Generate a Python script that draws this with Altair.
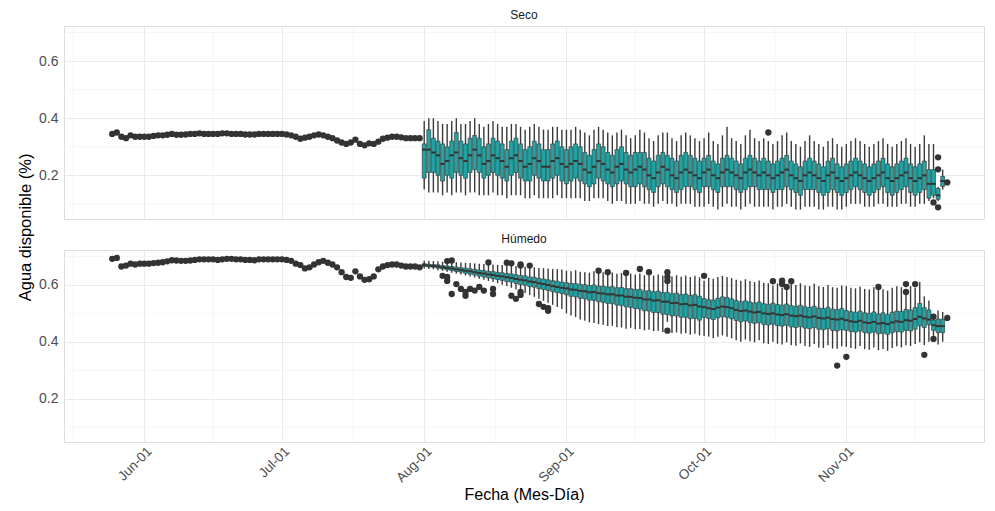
import altair as alt
import pandas as pd

FONT = "Liberation Sans"
TEAL = "#21a3a3"
DARK = "#333333"
YEAR = 2023

pre_start = "2023-05-25"
post_start = "2023-08-01"

# ---------------- Seco ----------------
seco_pre_may = [0.345, 0.35, 0.335, 0.33, 0.34, 0.335, 0.335]
seco_pre_jun = [0.335, 0.335, 0.338, 0.34, 0.34, 0.342, 0.345, 0.342, 0.342, 0.343,
                0.345, 0.345, 0.347, 0.345, 0.345, 0.345, 0.345, 0.347, 0.347, 0.345,
                0.345, 0.345, 0.343, 0.343, 0.343, 0.345, 0.345, 0.345, 0.345, 0.345]
seco_pre_jul = [0.345, 0.343, 0.34, 0.335, 0.328, 0.332, 0.335, 0.34, 0.343, 0.34,
                0.335, 0.33, 0.322, 0.315, 0.31, 0.315, 0.325, 0.31, 0.305, 0.312,
                0.31, 0.318, 0.328, 0.332, 0.335, 0.335, 0.333, 0.33, 0.33, 0.33, 0.33]

seco_med_aug = [0.29, 0.29, 0.28, 0.27, 0.24, 0.25, 0.27, 0.28, 0.26, 0.25,
                0.27, 0.29, 0.27, 0.24, 0.25, 0.27, 0.26, 0.25, 0.23, 0.26,
                0.27, 0.25, 0.23, 0.24, 0.26, 0.25, 0.23, 0.23, 0.25, 0.26, 0.24]
seco_q3_aug = [0.31, 0.36, 0.33, 0.32, 0.31, 0.30, 0.32, 0.35, 0.32, 0.31,
               0.33, 0.34, 0.33, 0.30, 0.31, 0.33, 0.32, 0.31, 0.29, 0.32,
               0.33, 0.31, 0.29, 0.30, 0.32, 0.31, 0.29, 0.29, 0.31, 0.32, 0.30]
seco_q1_aug = [0.19, 0.21, 0.21, 0.20, 0.18, 0.20, 0.19, 0.21, 0.20, 0.19,
               0.21, 0.22, 0.21, 0.19, 0.20, 0.21, 0.20, 0.19, 0.18, 0.20,
               0.21, 0.19, 0.18, 0.18, 0.20, 0.19, 0.18, 0.18, 0.19, 0.20, 0.18]
seco_hi_aug = [0.39, 0.40, 0.40, 0.39, 0.38, 0.38, 0.39, 0.40, 0.38, 0.38,
               0.39, 0.40, 0.38, 0.37, 0.38, 0.39, 0.38, 0.37, 0.37, 0.38,
               0.38, 0.37, 0.36, 0.37, 0.38, 0.37, 0.36, 0.36, 0.37, 0.37, 0.36]
seco_lo_aug = [0.15, 0.14, 0.14, 0.14, 0.13, 0.14, 0.13, 0.14, 0.14, 0.13,
               0.14, 0.14, 0.13, 0.13, 0.13, 0.14, 0.13, 0.13, 0.12, 0.13,
               0.13, 0.13, 0.12, 0.12, 0.13, 0.12, 0.12, 0.12, 0.12, 0.13, 0.12]

seco_med_sep = [0.23, 0.24, 0.25, 0.24, 0.22, 0.21, 0.23, 0.25, 0.24, 0.22,
                0.21, 0.23, 0.24, 0.22, 0.21, 0.22, 0.23, 0.22, 0.20, 0.19,
                0.21, 0.23, 0.22, 0.20, 0.19, 0.21, 0.22, 0.21, 0.20, 0.19]
seco_q3_sep = [0.29, 0.30, 0.31, 0.30, 0.28, 0.27, 0.29, 0.31, 0.30, 0.28,
               0.27, 0.29, 0.30, 0.28, 0.27, 0.28, 0.28, 0.28, 0.26, 0.25,
               0.27, 0.28, 0.27, 0.26, 0.25, 0.27, 0.28, 0.27, 0.26, 0.25]
seco_q1_sep = [0.17, 0.18, 0.19, 0.18, 0.17, 0.16, 0.17, 0.19, 0.18, 0.17,
               0.16, 0.17, 0.18, 0.17, 0.16, 0.16, 0.17, 0.16, 0.15, 0.14,
               0.16, 0.17, 0.16, 0.15, 0.14, 0.15, 0.16, 0.16, 0.15, 0.14]
seco_hi_sep = [0.36, 0.36, 0.37, 0.36, 0.35, 0.34, 0.36, 0.37, 0.36, 0.35,
               0.34, 0.35, 0.36, 0.34, 0.33, 0.34, 0.36, 0.35, 0.33, 0.32,
               0.34, 0.35, 0.35, 0.33, 0.32, 0.34, 0.35, 0.34, 0.33, 0.32]
seco_lo_sep = [0.12, 0.12, 0.12, 0.12, 0.11, 0.11, 0.12, 0.12, 0.12, 0.11,
               0.10, 0.11, 0.11, 0.10, 0.10, 0.10, 0.11, 0.10, 0.10, 0.09,
               0.10, 0.11, 0.10, 0.10, 0.09, 0.10, 0.10, 0.10, 0.09, 0.09]

seco_med_oct = [0.21, 0.22, 0.20, 0.19, 0.21, 0.22, 0.21, 0.20, 0.19, 0.21,
                0.22, 0.21, 0.20, 0.21, 0.20, 0.19, 0.20, 0.21, 0.22, 0.20,
                0.19, 0.18, 0.20, 0.21, 0.20, 0.19, 0.18, 0.20, 0.21, 0.19, 0.18]
seco_q3_oct = [0.26, 0.27, 0.25, 0.24, 0.26, 0.27, 0.26, 0.25, 0.24, 0.26,
               0.27, 0.26, 0.25, 0.26, 0.25, 0.24, 0.25, 0.26, 0.27, 0.25,
               0.24, 0.23, 0.25, 0.26, 0.25, 0.24, 0.23, 0.25, 0.26, 0.24, 0.23]
seco_q1_oct = [0.16, 0.16, 0.15, 0.14, 0.16, 0.16, 0.16, 0.15, 0.14, 0.15,
               0.16, 0.16, 0.15, 0.15, 0.15, 0.14, 0.15, 0.15, 0.16, 0.15,
               0.14, 0.13, 0.15, 0.15, 0.15, 0.14, 0.13, 0.14, 0.15, 0.14, 0.13]
seco_hi_oct = [0.33, 0.35, 0.32, 0.31, 0.34, 0.37, 0.33, 0.32, 0.31, 0.34,
               0.36, 0.33, 0.32, 0.33, 0.32, 0.31, 0.32, 0.34, 0.35, 0.32,
               0.31, 0.30, 0.32, 0.34, 0.32, 0.31, 0.30, 0.32, 0.33, 0.31, 0.30]
seco_lo_oct = [0.09, 0.10, 0.09, 0.08, 0.09, 0.10, 0.09, 0.09, 0.08, 0.09,
               0.10, 0.09, 0.09, 0.09, 0.09, 0.08, 0.09, 0.09, 0.10, 0.09,
               0.08, 0.08, 0.09, 0.09, 0.09, 0.08, 0.08, 0.09, 0.09, 0.08, 0.08]

seco_med_nov = [0.19, 0.20, 0.21, 0.20, 0.19, 0.18, 0.19, 0.20, 0.21, 0.19,
                0.18, 0.19, 0.20, 0.21, 0.19, 0.18, 0.19, 0.20, 0.17, 0.17,
                0.13, 0.18]
seco_q3_nov = [0.24, 0.25, 0.26, 0.25, 0.24, 0.23, 0.24, 0.25, 0.26, 0.24,
               0.23, 0.24, 0.25, 0.26, 0.24, 0.23, 0.24, 0.25, 0.22, 0.22,
               0.154, 0.196]
seco_q1_nov = [0.14, 0.15, 0.16, 0.15, 0.14, 0.13, 0.14, 0.15, 0.16, 0.14,
               0.13, 0.14, 0.15, 0.16, 0.14, 0.13, 0.14, 0.15, 0.12, 0.13,
               0.116, 0.161]
seco_hi_nov = [0.31, 0.32, 0.33, 0.32, 0.31, 0.30, 0.31, 0.32, 0.33, 0.31,
               0.30, 0.31, 0.32, 0.33, 0.31, 0.30, 0.31, 0.34, 0.31, 0.31,
               0.16, 0.22]
seco_lo_nov = [0.09, 0.10, 0.10, 0.10, 0.09, 0.09, 0.09, 0.10, 0.10, 0.09,
               0.09, 0.09, 0.10, 0.10, 0.09, 0.09, 0.10, 0.10, 0.11, 0.12,
               0.11, 0.15]

seco_out_dates = ["2023-10-15", "2023-11-20", "2023-11-21", "2023-11-21", "2023-11-21", "2023-11-23"]
seco_out_vals = [0.35, 0.105, 0.263, 0.221, 0.088, 0.175]

# ---------------- Húmedo ----------------
hum_pre_may = [0.692, 0.695, 0.665, 0.668, 0.675, 0.672, 0.675]
hum_pre_jun = [0.675, 0.675, 0.677, 0.678, 0.68, 0.683, 0.687, 0.686, 0.685, 0.685,
               0.686, 0.688, 0.69, 0.69, 0.69, 0.69, 0.688, 0.69, 0.692, 0.692,
               0.69, 0.69, 0.688, 0.688, 0.687, 0.69, 0.69, 0.69, 0.69, 0.69]
hum_pre_jul = [0.69, 0.688, 0.685, 0.675, 0.67, 0.658, 0.662, 0.672, 0.68, 0.685,
               0.678, 0.672, 0.662, 0.645, 0.628, 0.625, 0.648, 0.63, 0.618, 0.62,
               0.63, 0.655, 0.665, 0.67, 0.672, 0.672, 0.668, 0.665, 0.665, 0.665, 0.662]

hum_med_aug = [0.670, 0.668, 0.667, 0.665, 0.662, 0.660, 0.658, 0.655, 0.653, 0.650,
               0.648, 0.645, 0.642, 0.640, 0.637, 0.635, 0.632, 0.630, 0.627, 0.625,
               0.621, 0.618, 0.616, 0.612, 0.610, 0.606, 0.603, 0.600, 0.596, 0.593, 0.590]
hum_q3_aug = [0.675, 0.673, 0.672, 0.671, 0.668, 0.667, 0.665, 0.663, 0.661, 0.659,
              0.657, 0.655, 0.652, 0.651, 0.648, 0.647, 0.644, 0.643, 0.640, 0.639,
              0.636, 0.633, 0.632, 0.628, 0.627, 0.623, 0.621, 0.618, 0.615, 0.613, 0.610]
hum_q1_aug = [0.665, 0.663, 0.662, 0.659, 0.656, 0.653, 0.651, 0.647, 0.645, 0.641,
              0.638, 0.635, 0.631, 0.628, 0.625, 0.622, 0.619, 0.616, 0.612, 0.610,
              0.605, 0.601, 0.599, 0.594, 0.592, 0.587, 0.584, 0.581, 0.576, 0.573, 0.570]
hum_hi_aug = [0.685, 0.685, 0.684, 0.683, 0.682, 0.681, 0.680, 0.680, 0.679, 0.678,
              0.677, 0.676, 0.675, 0.674, 0.673, 0.672, 0.671, 0.670, 0.669, 0.668,
              0.667, 0.665, 0.664, 0.663, 0.662, 0.660, 0.659, 0.658, 0.656, 0.655, 0.654]
hum_lo_aug = [0.658, 0.656, 0.655, 0.652, 0.650, 0.646, 0.643, 0.640, 0.637, 0.633,
              0.630, 0.626, 0.622, 0.618, 0.614, 0.610, 0.606, 0.601, 0.596, 0.590,
              0.584, 0.578, 0.572, 0.565, 0.558, 0.551, 0.544, 0.537, 0.530, 0.522, 0.515]

hum_med_sep = [0.588, 0.584, 0.583, 0.579, 0.578, 0.574, 0.575, 0.571, 0.570, 0.567,
               0.567, 0.563, 0.563, 0.559, 0.558, 0.555, 0.554, 0.549, 0.549, 0.545,
               0.546, 0.541, 0.541, 0.536, 0.537, 0.532, 0.533, 0.528, 0.530, 0.524]
hum_q3_sep = [0.608, 0.605, 0.605, 0.602, 0.601, 0.598, 0.600, 0.596, 0.596, 0.593,
              0.594, 0.590, 0.591, 0.587, 0.587, 0.584, 0.584, 0.579, 0.580, 0.576,
              0.578, 0.573, 0.574, 0.569, 0.571, 0.566, 0.568, 0.563, 0.566, 0.560]
hum_q1_sep = [0.565, 0.560, 0.558, 0.553, 0.551, 0.546, 0.546, 0.541, 0.539, 0.535,
              0.534, 0.529, 0.528, 0.523, 0.521, 0.517, 0.515, 0.509, 0.508, 0.503,
              0.503, 0.497, 0.496, 0.491, 0.491, 0.486, 0.486, 0.481, 0.482, 0.476]
hum_hi_sep = [0.650, 0.648, 0.652, 0.646, 0.645, 0.643, 0.648, 0.642, 0.645, 0.640,
              0.644, 0.639, 0.642, 0.637, 0.640, 0.636, 0.640, 0.634, 0.638, 0.633,
              0.637, 0.632, 0.605, 0.630, 0.634, 0.629, 0.633, 0.628, 0.632, 0.627]
hum_lo_sep = [0.500, 0.492, 0.487, 0.478, 0.474, 0.468, 0.466, 0.462, 0.460, 0.455,
              0.456, 0.451, 0.450, 0.446, 0.449, 0.444, 0.445, 0.440, 0.442, 0.437,
              0.439, 0.434, 0.470, 0.431, 0.433, 0.428, 0.430, 0.425, 0.428, 0.422]

hum_med_oct = [0.522, 0.518, 0.515, 0.520, 0.524, 0.522, 0.518, 0.512, 0.508, 0.510,
               0.506, 0.503, 0.505, 0.500, 0.498, 0.500, 0.496, 0.494, 0.497, 0.492,
               0.490, 0.492, 0.488, 0.486, 0.489, 0.484, 0.482, 0.485, 0.480, 0.478, 0.481]
hum_q3_oct = [0.552, 0.548, 0.547, 0.553, 0.558, 0.556, 0.551, 0.545, 0.541, 0.544,
              0.540, 0.537, 0.540, 0.534, 0.532, 0.536, 0.531, 0.529, 0.533, 0.527,
              0.525, 0.528, 0.523, 0.521, 0.525, 0.519, 0.517, 0.521, 0.515, 0.513, 0.517]
hum_q1_oct = [0.486, 0.482, 0.478, 0.484, 0.488, 0.486, 0.481, 0.475, 0.470, 0.473,
              0.468, 0.465, 0.467, 0.461, 0.459, 0.462, 0.457, 0.455, 0.458, 0.452,
              0.450, 0.453, 0.448, 0.446, 0.450, 0.444, 0.442, 0.446, 0.440, 0.438, 0.442]
hum_hi_oct = [0.615, 0.625, 0.622, 0.628, 0.632, 0.628, 0.624, 0.618, 0.615, 0.620,
              0.614, 0.610, 0.616, 0.608, 0.606, 0.598, 0.605, 0.590, 0.585, 0.602,
              0.600, 0.606, 0.598, 0.596, 0.604, 0.595, 0.593, 0.600, 0.592, 0.590, 0.598]
hum_lo_oct = [0.420, 0.418, 0.412, 0.418, 0.422, 0.418, 0.412, 0.405, 0.400, 0.408,
              0.402, 0.398, 0.405, 0.395, 0.392, 0.400, 0.393, 0.390, 0.398, 0.388,
              0.386, 0.394, 0.385, 0.382, 0.392, 0.380, 0.378, 0.388, 0.376, 0.375, 0.384]

hum_med_nov = [0.476, 0.472, 0.470, 0.474, 0.468, 0.466, 0.470, 0.464, 0.466, 0.462,
               0.468, 0.472, 0.470, 0.476, 0.474, 0.480, 0.488, 0.482, 0.478, 0.458,
               0.455, 0.455]
hum_q3_nov = [0.510, 0.506, 0.504, 0.508, 0.502, 0.500, 0.505, 0.498, 0.502, 0.496,
              0.504, 0.508, 0.507, 0.514, 0.512, 0.520, 0.535, 0.520, 0.512, 0.476,
              0.480, 0.480]
hum_q1_nov = [0.440, 0.436, 0.434, 0.438, 0.432, 0.430, 0.434, 0.428, 0.430, 0.426,
              0.432, 0.436, 0.434, 0.440, 0.438, 0.444, 0.456, 0.450, 0.460, 0.440,
              0.432, 0.432]
hum_hi_nov = [0.596, 0.590, 0.588, 0.594, 0.586, 0.584, 0.592, 0.582, 0.585, 0.580,
              0.590, 0.595, 0.592, 0.565, 0.596, 0.590, 0.610, 0.560, 0.545, 0.482,
              0.510, 0.505]
hum_lo_nov = [0.382, 0.378, 0.375, 0.385, 0.374, 0.372, 0.380, 0.370, 0.374, 0.368,
              0.378, 0.384, 0.380, 0.388, 0.385, 0.392, 0.398, 0.388, 0.400, 0.420,
              0.390, 0.400]

hum_out_dates = ["2023-08-05", "2023-08-06", "2023-08-06", "2023-08-06", "2023-08-07", "2023-08-07",
                 "2023-08-08", "2023-08-09", "2023-08-10", "2023-08-10", "2023-08-11", "2023-08-12",
                 "2023-08-13", "2023-08-14", "2023-08-15", "2023-08-16", "2023-08-16", "2023-08-19",
                 "2023-08-20", "2023-08-20", "2023-08-21", "2023-08-22", "2023-08-22", "2023-08-22",
                 "2023-08-22", "2023-08-24", "2023-08-26", "2023-08-27", "2023-08-28", "2023-08-28",
                 "2023-09-08", "2023-09-10", "2023-09-14", "2023-09-17", "2023-09-19", "2023-09-23",
                 "2023-09-23", "2023-09-23", "2023-09-23", "2023-10-01", "2023-10-16", "2023-10-18",
                 "2023-10-18", "2023-10-19", "2023-10-20", "2023-10-30", "2023-11-01", "2023-11-08",
                 "2023-11-14", "2023-11-14", "2023-11-16", "2023-11-18", "2023-11-20", "2023-11-20",
                 "2023-11-23"]
hum_out_vals = [0.632, 0.684, 0.614, 0.628, 0.686, 0.568,
                0.603, 0.586, 0.562, 0.575, 0.586, 0.580,
                0.593, 0.580, 0.679, 0.586, 0.568, 0.678,
                0.676, 0.562, 0.551, 0.672, 0.668, 0.575,
                0.565, 0.668, 0.533, 0.523, 0.509, 0.518,
                0.650, 0.645, 0.642, 0.656, 0.645, 0.645,
                0.628, 0.614, 0.439, 0.632, 0.613, 0.615,
                0.603, 0.593, 0.613, 0.316, 0.347, 0.593,
                0.603, 0.575, 0.603, 0.354, 0.488, 0.410,
                0.484]

month_ticks = [(6, 1), (7, 1), (8, 1), (9, 1), (10, 1), (11, 1)]
minor_x = ["2023-05-16T12:00:00", "2023-06-16T00:00:00", "2023-07-16T12:00:00",
           "2023-08-16T12:00:00", "2023-09-16T00:00:00", "2023-10-16T12:00:00",
           "2023-11-16T00:00:00"]
major_y = [0.2, 0.4, 0.6]
minor_y = [0.1, 0.3, 0.5, 0.7]
x_domain = [alt.DateTime(year=YEAR, month=5, date=15, hours=14),
            alt.DateTime(year=YEAR, month=11, date=29, hours=22)]
y_domain = [0.047, 0.723]
PLOT_W = 920


def days(start, n):
    return pd.date_range(start, periods=n, freq="D").strftime("%Y-%m-%dT00:00:00").tolist()


def panel(name, pre, med, q1, q3, lo, hi, out_dates, out_vals, bottom, height):
    pre_df = pd.DataFrame({"fecha": days(pre_start, len(pre)), "v": pre})
    box_df = pd.DataFrame({"fecha": days(post_start, len(med)), "med": med,
                           "q1": q1, "q3": q3, "lo": lo, "hi": hi})
    out_df = pd.DataFrame({"fecha": [d + "T00:00:00" for d in out_dates], "v": out_vals})
    gx_df = pd.DataFrame({"fecha": minor_x})
    gy_df = pd.DataFrame({"v": minor_y})

    xscale = alt.Scale(domain=x_domain, nice=False)
    yscale = alt.Scale(domain=y_domain, nice=False, zero=False)
    tick_vals = [alt.DateTime(year=YEAR, month=m, date=d) for m, d in month_ticks]
    if bottom:
        xaxis = alt.Axis(values=tick_vals, format="%b-%d", labelAngle=-45, labelAlign="right",
                         labelBaseline="top", labelFontSize=13.5, labelColor="#4d4d4d",
                         labelFont=FONT, ticks=False, domain=False, gridColor="#ebebeb",
                         gridWidth=1, labelPadding=2, title="Fecha (Mes-Día)",
                         titleFont=FONT, titleFontSize=16, titleFontWeight="normal",
                         titleColor="#000000", titlePadding=2)
    else:
        xaxis = alt.Axis(values=tick_vals, labels=False, ticks=False, domain=False,
                         gridColor="#ebebeb", gridWidth=1, title=None)
    yaxis = alt.Axis(values=major_y, format=".1f", ticks=False, domain=False,
                     labelFontSize=14, labelColor="#4d4d4d", labelFont=FONT,
                     labelPadding=6, gridColor="#ebebeb", gridWidth=1, title=None)

    gx = alt.Chart(gx_df).mark_rule(color="#f3f3f3", strokeWidth=0.8).encode(
        x=alt.X("fecha:T", scale=xscale, axis=xaxis))
    gy = alt.Chart(gy_df).mark_rule(color="#f3f3f3", strokeWidth=0.8).encode(
        y=alt.Y("v:Q", scale=yscale, axis=yaxis))
    whisk = alt.Chart(box_df).mark_rule(color="#3a3a3a", strokeWidth=1.4).encode(
        x=alt.X("fecha:T", scale=xscale), y=alt.Y("lo:Q", scale=yscale), y2="hi:Q")
    boxes = alt.Chart(box_df).mark_bar(size=4, color=TEAL, stroke=DARK, strokeWidth=0.6).encode(
        x=alt.X("fecha:T", scale=xscale), y=alt.Y("q1:Q", scale=yscale), y2="q3:Q")
    meds = alt.Chart(box_df).mark_tick(orient="horizontal", size=4.5, thickness=2, color=DARK, opacity=1).encode(
        x=alt.X("fecha:T", scale=xscale), y=alt.Y("med:Q", scale=yscale))
    pts = alt.Chart(pre_df).mark_circle(size=40, color=DARK, opacity=1).encode(
        x=alt.X("fecha:T", scale=xscale), y=alt.Y("v:Q", scale=yscale))
    outs = alt.Chart(out_df).mark_circle(size=40, color=DARK, opacity=1).encode(
        x=alt.X("fecha:T", scale=xscale), y=alt.Y("v:Q", scale=yscale))

    return alt.layer(gx, gy, whisk, boxes, meds, pts, outs).properties(
        width=PLOT_W, height=height,
        title=alt.TitleParams(name, fontSize=12, font=FONT, fontWeight="normal",
                              color="#1a1a1a", anchor="middle", offset=4))


top = panel("Seco", seco_pre_may + seco_pre_jun + seco_pre_jul,
            seco_med_aug + seco_med_sep + seco_med_oct + seco_med_nov,
            seco_q1_aug + seco_q1_sep + seco_q1_oct + seco_q1_nov,
            seco_q3_aug + seco_q3_sep + seco_q3_oct + seco_q3_nov,
            seco_lo_aug + seco_lo_sep + seco_lo_oct + seco_lo_nov,
            seco_hi_aug + seco_hi_sep + seco_hi_oct + seco_hi_nov,
            seco_out_dates, seco_out_vals, False, 193)
bot = panel("Húmedo", hum_pre_may + hum_pre_jun + hum_pre_jul,
            hum_med_aug + hum_med_sep + hum_med_oct + hum_med_nov,
            hum_q1_aug + hum_q1_sep + hum_q1_oct + hum_q1_nov,
            hum_q3_aug + hum_q3_sep + hum_q3_oct + hum_q3_nov,
            hum_lo_aug + hum_lo_sep + hum_lo_oct + hum_lo_nov,
            hum_hi_aug + hum_hi_sep + hum_hi_oct + hum_hi_nov,
            hum_out_dates, hum_out_vals, True, 192)

chart = alt.vconcat(top, bot, spacing=12).properties(
    padding={"left": 9, "top": 0, "right": 0, "bottom": 0},
    title=alt.TitleParams("Agua disponible (%)", orient="left", anchor="middle",
                          fontSize=16.5, font=FONT, fontWeight="normal", color="#000000",
                          offset=4, dx=28)
).configure_view(stroke=None).configure(background="white")

chart.save("out.html", embed_options={"renderer": "svg", "actions": False})
